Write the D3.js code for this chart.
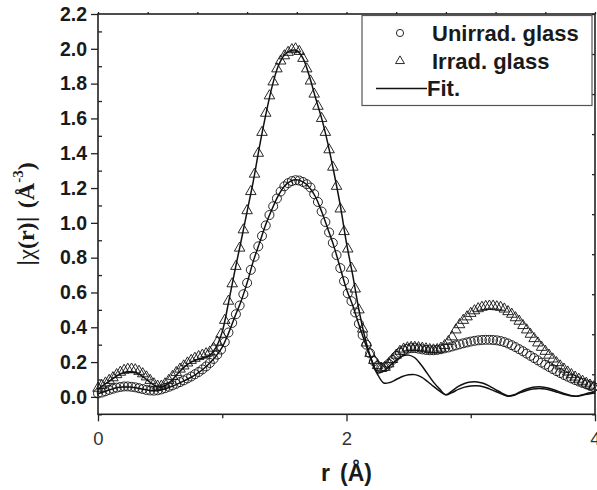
<!DOCTYPE html>
<html>
<head>
<meta charset="utf-8">
<script src="https://cdnjs.cloudflare.com/ajax/libs/d3/7.8.5/d3.min.js"></script>
<style>
  body { margin: 0; background: #fff; }
  svg { display: block; }
</style>
</head>
<body>
<div class="chart_container"></div>
<script>
'use strict';

// r grid of the measured curves (Å) and of the fit curves
const dataStep = 0.03, dataCount = 134;
const fitStep = 0.05, fitCount = 81;

// |chi(r)| of the unirradiated glass, one value per data r
const uniData = [
  0.02, 0.025, 0.032, 0.04, 0.047, 0.053, 0.057, 0.06, 0.06, 0.058,
  0.055, 0.05, 0.045, 0.04, 0.037, 0.036, 0.038, 0.043, 0.05, 0.058,
  0.066, 0.075, 0.085, 0.095, 0.106, 0.117, 0.13, 0.143, 0.158, 0.175,
  0.195, 0.218, 0.243, 0.272, 0.315, 0.37, 0.425, 0.475, 0.525, 0.59,
  0.655, 0.73, 0.805, 0.865, 0.925, 0.985, 1.045, 1.095, 1.14, 1.18,
  1.21, 1.228, 1.24, 1.245, 1.243, 1.235, 1.222, 1.203, 1.165, 1.12,
  1.065, 1.005, 0.945, 0.885, 0.815, 0.74, 0.665, 0.595, 0.55, 0.485,
  0.42, 0.355, 0.30, 0.25, 0.205, 0.178, 0.168, 0.172, 0.19, 0.212,
  0.235, 0.255, 0.268, 0.276, 0.28, 0.28, 0.277, 0.273, 0.27, 0.268,
  0.268, 0.27, 0.274, 0.279, 0.284, 0.29, 0.296, 0.302, 0.308, 0.313,
  0.318, 0.322, 0.325, 0.327, 0.328, 0.328, 0.327, 0.325, 0.321, 0.315,
  0.307, 0.297, 0.286, 0.274, 0.262, 0.249, 0.236, 0.223, 0.21, 0.197,
  0.185, 0.172, 0.16, 0.148, 0.137, 0.126, 0.116, 0.106, 0.097, 0.088,
  0.08, 0.072, 0.064, 0.057
];

// |chi(r)| of the irradiated glass
const irradData = [
  0.05, 0.065, 0.08, 0.095, 0.11, 0.128, 0.142, 0.153, 0.159, 0.16,
  0.156, 0.147, 0.133, 0.115, 0.095, 0.075, 0.062, 0.062, 0.075, 0.095,
  0.118, 0.14, 0.16, 0.178, 0.195, 0.21, 0.222, 0.232, 0.24, 0.248,
  0.258, 0.28, 0.315, 0.36, 0.44, 0.55, 0.65, 0.75, 0.855, 0.96,
  1.07, 1.18, 1.28, 1.40, 1.52, 1.63, 1.73, 1.81, 1.885, 1.93,
  1.96, 1.98, 1.995, 2.00, 1.985, 1.945, 1.885, 1.815, 1.74, 1.67,
  1.60, 1.52, 1.42, 1.32, 1.21, 1.08, 0.95, 0.85, 0.74, 0.62,
  0.50, 0.39, 0.31, 0.25, 0.21, 0.18, 0.165, 0.17, 0.19, 0.215,
  0.24, 0.262, 0.275, 0.282, 0.285, 0.285, 0.283, 0.28, 0.276, 0.272,
  0.27, 0.272, 0.28, 0.295, 0.318, 0.345, 0.385, 0.415, 0.44, 0.46,
  0.48, 0.495, 0.507, 0.515, 0.52, 0.522, 0.522, 0.518, 0.515, 0.505,
  0.49, 0.475, 0.455, 0.435, 0.41, 0.385, 0.36, 0.335, 0.31, 0.285,
  0.262, 0.24, 0.218, 0.197, 0.178, 0.16, 0.143, 0.128, 0.114, 0.102,
  0.09, 0.079, 0.068, 0.058
];

// fits, one value per fit r
const uniFit = [
  0.018, 0.03, 0.042, 0.052, 0.057, 0.057, 0.053, 0.046, 0.039, 0.035,
  0.038, 0.048, 0.062, 0.078, 0.095, 0.113, 0.135, 0.162, 0.195, 0.235,
  0.286, 0.365, 0.458, 0.547, 0.655, 0.78, 0.885, 0.99, 1.078, 1.155,
  1.21, 1.24, 1.248, 1.235, 1.205, 1.15, 1.065, 0.965, 0.862, 0.74,
  0.618, 0.525, 0.415, 0.31, 0.215, 0.13, 0.08, 0.083, 0.1, 0.117,
  0.127, 0.128, 0.115, 0.09, 0.06, 0.033, 0.012, 0.025, 0.043, 0.056,
  0.063, 0.064, 0.058, 0.046, 0.031, 0.016, 0.004, 0.01, 0.025, 0.037,
  0.045, 0.048, 0.045, 0.037, 0.026, 0.015, 0.006, 0.004, 0.01, 0.017,
  0.022
];

const irradFit = [
  0.045, 0.07, 0.095, 0.12, 0.138, 0.145, 0.14, 0.122, 0.095, 0.068,
  0.055, 0.068, 0.1, 0.14, 0.175, 0.2, 0.215, 0.225, 0.24, 0.285,
  0.375, 0.54, 0.72, 0.89, 1.065, 1.24, 1.44, 1.62, 1.78, 1.9,
  1.965, 1.99, 1.99, 1.945, 1.845, 1.72, 1.6, 1.455, 1.285, 1.1,
  0.883, 0.7, 0.5, 0.337, 0.215, 0.138, 0.148, 0.18, 0.21, 0.235,
  0.24, 0.225, 0.185, 0.135, 0.085, 0.045, 0.012, 0.035, 0.06, 0.077,
  0.085, 0.086, 0.078, 0.062, 0.042, 0.022, 0.006, 0.012, 0.03, 0.045,
  0.055, 0.058, 0.054, 0.045, 0.033, 0.02, 0.009, 0.004, 0.012, 0.022,
  0.03
];

const xTicks = [0, 2, 4];
const xMinorTicks = [1, 3];
const yTicks = [0, 0.2, 0.4, 0.6, 0.8, 1.0, 1.2, 1.4, 1.6, 1.8, 2.0, 2.2];
const yMinorTicks = [-0.1, 0.1, 0.3, 0.5, 0.7, 0.9, 1.1, 1.3, 1.5, 1.7, 1.9, 2.1];
const topTicks = [0, 0.4, 0.8, 1.2, 1.6, 2.0, 2.4, 2.8, 3.2, 3.6, 4.0];
const legendLabels = ['Unirrad. glass', 'Irrad. glass', 'Fit.'];

const width = 597,
  height = 490,
  plotLeft = 98,
  plotRight = 595,
  plotTop = 14,
  plotBottom = 414.3;

const rData = d3.range(dataCount).map(i => +(i * dataStep).toFixed(2));
const rFit = d3.range(fitCount).map(i => +(i * fitStep).toFixed(2));

const xScale = d3.scaleLinear().domain([0, 4]).range([plotLeft, plotRight]);
const yScale = d3.scaleLinear().domain([-0.1, 2.2]).range([plotBottom, plotTop]);
const rightScale = d3.scaleLinear().domain([0, 10]).range([plotBottom, plotTop]);

const svg = d3.select('.chart_container')
  .append('svg')
  .attr('width', width)
  .attr('height', height)
  .style('font-family', '"Liberation Sans", Arial, sans-serif');

const styleAxis = g => {
  g.select('.domain').remove();
  g.selectAll('line').attr('stroke', '#222').attr('stroke-width', 1.3);
};

// left axis, labelled major ticks out and minor ticks in
svg.append('g')
  .attr('transform', `translate(${plotLeft},0)`)
  .call(d3.axisLeft(yScale).tickValues(yTicks).tickSize(7).tickPadding(4).tickFormat(d3.format('.1f')))
  .call(styleAxis)
  .call(g => g.selectAll('text')
    .attr('font-size', 19.5)
    .attr('font-weight', 'bold')
    .attr('fill', '#1a1a1a')
    .attr('font-family', '"Liberation Sans", Arial, sans-serif'));

svg.append('g')
  .attr('transform', `translate(${plotLeft},0)`)
  .call(d3.axisRight(yScale).tickValues(yMinorTicks).tickSize(4).tickFormat(''))
  .call(styleAxis);

// bottom axis
svg.append('g')
  .attr('transform', `translate(0,${plotBottom})`)
  .call(d3.axisBottom(xScale).tickValues(xTicks).tickSize(7).tickPadding(11).tickFormat(d3.format('d')))
  .call(styleAxis)
  .call(g => g.selectAll('text')
    .attr('font-size', 18.5)
    .attr('fill', '#333')
    .attr('font-family', '"Liberation Sans", Arial, sans-serif'));

svg.append('g')
  .attr('transform', `translate(0,${plotBottom})`)
  .call(d3.axisBottom(xScale).tickValues(xMinorTicks).tickSize(4).tickFormat(''))
  .call(styleAxis);

// top and right axes, ticks only
svg.append('g')
  .attr('transform', `translate(0,${plotTop})`)
  .call(d3.axisTop(xScale).tickValues(topTicks).tickSize(2).tickFormat(''))
  .call(styleAxis);

svg.append('g')
  .attr('transform', `translate(${plotRight},0)`)
  .call(d3.axisLeft(rightScale).ticks(10).tickSize(3).tickFormat(''))
  .call(styleAxis);

// frame
svg.append('rect')
  .attr('x', plotLeft)
  .attr('y', plotTop)
  .attr('width', plotRight - plotLeft)
  .attr('height', plotBottom - plotTop)
  .attr('fill', 'none')
  .attr('stroke', '#222')
  .attr('stroke-width', 1.6);

const plot = svg.append('g');

const fitLine = d3.line()
  .x(d => xScale(d[0]))
  .y(d => yScale(d[1]))
  .curve(d3.curveCatmullRom.alpha(0.5));

[uniFit, irradFit].forEach(series => {
  plot.append('path')
    .datum(rFit.map((r, i) => [r, series[i]]))
    .attr('fill', 'none')
    .attr('stroke', '#111')
    .attr('stroke-width', 1.5)
    .attr('d', fitLine);
});

plot.selectAll('circle.uni')
  .data(rData.map((r, i) => [r, uniData[i]]))
  .enter()
  .append('circle')
  .attr('class', 'uni')
  .attr('cx', d => xScale(d[0]))
  .attr('cy', d => yScale(d[1]))
  .attr('r', 4.5)
  .attr('fill', 'none')
  .attr('stroke', '#111')
  .attr('stroke-width', 0.9);

const triangle = d3.symbol().type(d3.symbolTriangle).size(48);

plot.selectAll('path.irrad')
  .data(rData.map((r, i) => [r, irradData[i]]))
  .enter()
  .append('path')
  .attr('class', 'irrad')
  .attr('d', triangle)
  .attr('transform', d => `translate(${xScale(d[0])},${yScale(d[1])})`)
  .attr('fill', 'none')
  .attr('stroke', '#111')
  .attr('stroke-width', 0.9);

// legend
const legend = svg.append('g');

legend.append('rect')
  .attr('x', 362)
  .attr('y', 15.5)
  .attr('width', 230)
  .attr('height', 90)
  .attr('fill', '#fff')
  .attr('stroke', '#555')
  .attr('stroke-width', 1.2);

legend.append('circle')
  .attr('cx', 400)
  .attr('cy', 33)
  .attr('r', 3.6)
  .attr('fill', 'none')
  .attr('stroke', '#111')
  .attr('stroke-width', 0.9);

legend.append('path')
  .attr('d', d3.symbol().type(d3.symbolTriangle).size(34))
  .attr('transform', 'translate(400,61)')
  .attr('fill', 'none')
  .attr('stroke', '#111')
  .attr('stroke-width', 0.9);

legend.append('line')
  .attr('x1', 376)
  .attr('x2', 427)
  .attr('y1', 88.5)
  .attr('y2', 88.5)
  .attr('stroke', '#111')
  .attr('stroke-width', 1.4);

legend.selectAll('text')
  .data(legendLabels)
  .enter()
  .append('text')
  .attr('x', (d, i) => i === 2 ? 427 : 432)
  .attr('y', (d, i) => 41 + i * 27.5)
  .attr('font-size', 22)
  .attr('font-weight', 'bold')
  .attr('fill', '#1a1a1a')
  .text(d => d);

// axis titles
const xTitle = svg.append('text')
  .attr('x', (plotLeft + plotRight) / 2)
  .attr('y', 481)
  .attr('text-anchor', 'middle')
  .attr('font-size', 23)
  .attr('font-weight', 'bold')
  .attr('fill', '#1a1a1a');

xTitle.append('tspan').text('r');
xTitle.append('tspan').attr('dx', 10).text('(Å)');

const yTitle = svg.append('text')
  .attr('transform', `translate(34,${(plotTop + plotBottom) / 2}) rotate(-90)`)
  .attr('text-anchor', 'middle')
  .attr('font-family', '"Liberation Serif", "Times New Roman", serif')
  .attr('font-size', 24)
  .attr('fill', '#1a1a1a');

yTitle.append('tspan').attr('font-family', '"Liberation Sans", Arial, sans-serif').attr('font-weight', 'normal').text('|');
yTitle.append('tspan').attr('font-weight', 'normal').text('χ');
yTitle.append('tspan').attr('font-weight', 'bold').text('(r)');
yTitle.append('tspan').attr('font-family', '"Liberation Sans", Arial, sans-serif').attr('font-weight', 'normal').text('|');
yTitle.append('tspan').attr('font-weight', 'bold').attr('dx', 8).text('(Å');
yTitle.append('tspan').attr('font-weight', 'bold').attr('font-size', 15).attr('dy', -11).text('-3');
yTitle.append('tspan').attr('font-weight', 'bold').attr('dy', 11).text(')');
</script>
</body>
</html>
